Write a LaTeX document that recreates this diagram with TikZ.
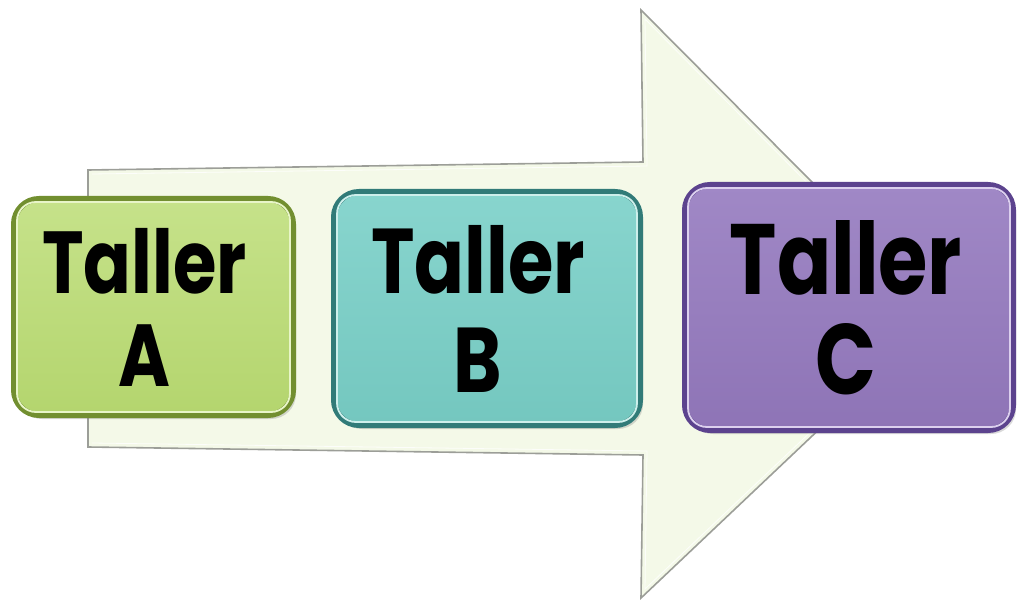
\documentclass[tikz,border=0pt]{standalone}
\usepackage{fontspec}
\setmainfont{Poppins}
\usetikzlibrary{shadows}
\definecolor{arrowfill}{HTML}{F4F9E8}
\definecolor{arrowline}{HTML}{9C9E98}
\definecolor{aTop}{HTML}{C6E28A}
\definecolor{aBot}{HTML}{B4D56E}
\definecolor{aRim}{HTML}{728F30}
\definecolor{aHi}{HTML}{E8F5C8}
\definecolor{bTop}{HTML}{88D5CE}
\definecolor{bBot}{HTML}{74C7BF}
\definecolor{bRim}{HTML}{317B78}
\definecolor{bHi}{HTML}{CDEFEB}
\definecolor{cTop}{HTML}{A088C6}
\definecolor{cBot}{HTML}{8E74B6}
\definecolor{cRim}{HTML}{5C438E}
\definecolor{cHi}{HTML}{DCD0EE}
\tikzset{
  tallerbox/.style n args={5}{rounded corners=25pt, draw=#3, line width=6pt,
    top color=#1, bottom color=#2, minimum width=#4, minimum height=#5,
    inner sep=0pt, align=center,
    drop shadow={opacity=0.3, shadow xshift=3pt, shadow yshift=-4pt}},
  hiline/.style={draw=#1, line width=1.8pt, rounded corners=19pt},
}
\newcommand{\sq}[1]{\scalebox{0.8}[1]{#1}\hspace*{18pt}}
\begin{document}
\begin{tikzpicture}[x=1pt,y=-1pt]
\useasboundingbox (0,0) rectangle (1017,601);
% big arrow
\draw[fill=arrowfill, draw=arrowline, line width=1.6pt, line join=miter]
  (88,170) -- (643,162) -- (641,10) -- (942,313) -- (641,598) -- (643,455) -- (88,447) -- cycle;
\draw[draw=white, line width=0.8pt, opacity=0.8]
  (92,174) -- (647,166) -- (645,19) -- (936,313) -- (645,589) -- (647,451) -- (92,443);
% boxes
\node[tallerbox={aTop}{aBot}{aRim}{279pt}{216pt},
  font=\fontsize{88}{93}\selectfont\bfseries] (A) at (153.5,307)
  {\sq{Taller}\\\sq{A}};
\node[tallerbox={bTop}{bBot}{bRim}{306pt}{233pt},
  font=\fontsize{92}{99}\selectfont\bfseries] (B) at (487,308.5)
  {\sq{Taller}\\\sq{B}};
\node[tallerbox={cTop}{cBot}{cRim}{328pt}{245pt},
  font=\fontsize{100}{100}\selectfont\bfseries] (C) at (849,307.5)
  {\scalebox{0.8}[1]{Taller}\hspace*{6pt}\\\scalebox{0.8}[1]{C}\hspace*{6pt}};
% bevel highlights
\foreach \n/\h in {A/aHi,B/bHi,C/cHi}{
  \draw[hiline=\h] ([shift={(6pt,-6pt)}]\n.north west) rectangle ([shift={(-6pt,6pt)}]\n.south east);
}
\end{tikzpicture}
\end{document}
